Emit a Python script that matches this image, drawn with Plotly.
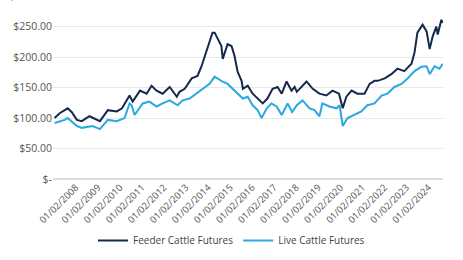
import plotly.graph_objects as go

feeder_dates = ["2007-01-15","2007-04-10","2007-08-20","2007-10-25","2008-01-20","2008-04-10","2008-08-15","2008-12-10",
    "2009-02-05","2009-06-15","2009-11-10","2010-02-05","2010-06-10","2010-08-01","2010-09-01","2010-12-01",
    "2011-03-20","2011-06-10","2011-09-01","2011-12-10","2012-04-05","2012-08-01","2012-09-15","2012-12-10",
    "2013-04-05","2013-07-10","2013-09-15","2013-12-10","2014-01-25","2014-03-15","2014-04-20","2014-06-10",
    "2014-08-10","2014-09-01","2014-11-20","2015-01-25","2015-03-15","2015-05-05","2015-07-10","2015-08-01",
    "2015-10-20","2016-01-10","2016-04-01","2016-06-25","2016-09-10","2016-12-05","2017-02-25","2017-05-05",
    "2017-07-25","2017-10-15","2017-12-05","2018-01-10","2018-06-20","2018-10-01","2019-01-20","2019-05-15",
    "2019-08-25","2019-12-10","2020-02-10","2020-04-10","2020-07-05","2020-10-10","2021-02-05","2021-04-30",
    "2021-07-20","2021-09-10","2022-01-05","2022-04-25","2022-08-05","2022-11-25","2023-03-25","2023-05-15",
    "2023-07-01","2023-09-25","2023-12-01","2024-01-20","2024-03-10","2024-05-10","2024-06-01","2024-08-01","2024-08-25"]
feeder_vals = [100,108,116,110,97,95,103,97,
    95,113,111,116,137,127,132,145,
    140,153,145,140,151,135,143,148,
    165,169,185,213,224,240,240,229,
    218,197,221,218,202,176,161,148,
    153,140,132,124,132,148,151,140,
    160,145,151,143,160,148,140,137,
    145,140,116,135,145,140,140,156,
    161,161,165,172,181,177,189,208,
    240,253,242,213,234,250,237,261,256]

live_dates = ["2007-01-15","2007-07-01","2007-08-20","2008-01-20","2008-04-10","2008-10-05","2009-02-05","2009-06-15",
    "2009-11-10","2010-03-20","2010-06-10","2010-07-15","2010-09-01","2011-01-15","2011-05-05","2011-09-01",
    "2011-12-10","2012-04-05","2012-08-15","2012-11-05","2013-03-01","2013-06-25","2013-10-05","2014-01-25",
    "2014-04-20","2014-08-25","2014-11-20","2015-02-15","2015-05-05","2015-08-01","2015-10-20","2016-01-10",
    "2016-04-01","2016-06-05","2016-09-01","2016-11-15","2017-02-10","2017-05-05","2017-08-10","2017-10-25",
    "2018-01-10","2018-04-15","2018-08-10","2018-10-30","2019-01-20","2019-03-10","2019-07-05","2019-11-01",
    "2019-12-20","2020-02-10","2020-04-30","2020-08-25","2020-12-15","2021-03-25","2021-07-20","2021-11-15",
    "2022-02-20","2022-06-15","2022-10-10","2023-01-20","2023-05-15","2023-09-05","2023-12-01","2024-01-20",
    "2024-04-10","2024-06-30","2024-08-25"]
live_vals = [92,97,100,87,84,87,82,97,
    95,100,124,121,105,124,127,119,
    124,129,121,129,132,140,148,156,
    168,160,156,148,140,132,135,121,
    113,100,116,124,119,105,124,110,
    121,129,116,113,103,124,119,116,
    121,87,100,105,111,121,124,137,
    140,151,156,165,177,184,185,172,
    185,181,189]

tick_years = list(range(2008, 2025))
tick_vals = [f"{y}-01-02" for y in tick_years]
tick_text = [f"01/02/{y}" for y in tick_years]
y_ticks = [0, 50, 100, 150, 200, 250]
y_text = ["$-", "$50.00", "$100.00", "$150.00", "$200.00", "$250.00"]
y_max = 293.5
top_tick = 300
top_text = "$300.00"

fig = go.Figure()
fig.add_trace(go.Scatter(x=feeder_dates, y=feeder_vals, mode="lines", name="Feeder Cattle Futures",
                         line=dict(color="#15294d", width=2)))
fig.add_trace(go.Scatter(x=live_dates, y=live_vals, mode="lines", name="Live Cattle Futures",
                         line=dict(color="#2aa8e0", width=2)))

fig.add_annotation(x=0, xref="paper", xanchor="right", xshift=-3, y=top_tick / y_max, yref="paper", yanchor="middle",
                   text=top_text, showarrow=False, font=dict(family="Open Sans", size=10.5, color="#555555"))

fig.update_layout(
    width=463, height=260,
    margin=dict(l=53, r=20, t=0, b=78),
    paper_bgcolor="white", plot_bgcolor="white",
    font=dict(family="Open Sans", size=10, color="#555555"),
    showlegend=True,
    legend=dict(orientation="h", xref="container", x=0.5, xanchor="center", yref="container", y=0.075, yanchor="middle",
                font=dict(size=10, color="#444444"), traceorder="normal"),
)
fig.update_xaxes(type="date", range=["2006-12-20", "2024-08-28"], tickvals=tick_vals, ticktext=tick_text,
                 tickangle=-45, showgrid=False, showline=False, zeroline=False, ticks="",
                 tickfont=dict(size=9.5, color="#555555"))
fig.update_yaxes(range=[0, y_max], tickvals=y_ticks, ticktext=y_text, showgrid=True, gridcolor="#e8e8e8",
                 gridwidth=1, zeroline=True, zerolinecolor="#dddddd", showline=False, ticks="",
                 tickfont=dict(size=10.5, color="#555555"))

fig.write_html("out.html")
